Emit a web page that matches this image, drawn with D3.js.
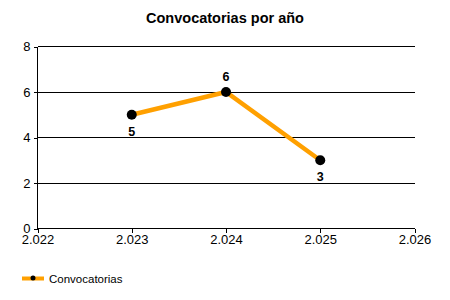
<!DOCTYPE html>
<html><head><meta charset="utf-8">
<script src="https://cdn.jsdelivr.net/npm/d3@7"></script>
<style>body{margin:0;background:#fff}svg{display:block;font-family:"Liberation Sans",Arial,sans-serif}</style>
</head><body><svg id="c" width="450" height="300"></svg>
<script>
const years = [2023, 2024, 2025];
const values = [5, 6, 3];
const labelPos = ["below", "above", "below"];
const xTicks = [2022, 2023, 2024, 2025, 2026];
const yTicks = [0, 2, 4, 6, 8];
const title = "Convocatorias por año";
const seriesName = "Convocatorias";

const svg = d3.select("#c");
const x = d3.scaleLinear().domain([2022, 2026]).range([37.5, 414.5]);
const y = d3.scaleLinear().domain([0, 8]).range([228.5, 46.5]);
const fmt = v => (v/1000).toFixed(3);

svg.append("text").attr("x", 225).attr("y", 23).attr("text-anchor", "middle")
  .attr("font-size", 14.5).attr("font-weight", "bold").text(title);

// grid
svg.append("g").selectAll("line").data(yTicks.filter(d => d > 0)).join("line")
  .attr("x1", 37.5).attr("x2", 414.5).attr("y1", d => y(d)).attr("y2", d => y(d))
  .attr("stroke", "#000").attr("stroke-width", 1).attr("shape-rendering", "crispEdges");

// y axis
const ya = svg.append("g").attr("transform", "translate(37.5,0)")
  .call(d3.axisLeft(y).tickValues(yTicks).tickSize(4).tickPadding(3).tickFormat(d3.format("d")));
ya.select(".domain").attr("d", `M0,${y(8)}V${y(0)}`).attr("shape-rendering", "crispEdges");
ya.selectAll("line").attr("shape-rendering", "crispEdges");
ya.selectAll("text").attr("font-size", 13).attr("font-family", "Liberation Sans, Arial").attr("fill", "#000");

// x axis
const xa = svg.append("g").attr("transform", `translate(0,${y(0)})`)
  .call(d3.axisBottom(x).tickValues(xTicks).tickSize(4).tickPadding(2).tickFormat(fmt));
xa.select(".domain").attr("d", `M${x(2022)},0H${x(2026)}`).attr("shape-rendering", "crispEdges");
xa.selectAll("line").attr("shape-rendering", "crispEdges");
xa.selectAll("text").attr("font-size", 13).attr("font-family", "Liberation Sans, Arial").attr("fill", "#000");

const data = years.map((d, i) => ({x: d, y: values[i], p: labelPos[i]}));
svg.append("path").datum(data)
  .attr("d", d3.line().x(d => x(d.x)).y(d => y(d.y)))
  .attr("fill", "none").attr("stroke", "#FFA000").attr("stroke-width", 4.5);
svg.append("g").selectAll("circle").data(data).join("circle")
  .attr("cx", d => x(d.x)).attr("cy", d => y(d.y)).attr("r", 5).attr("fill", "#000");
svg.append("g").selectAll("text").data(data).join("text")
  .attr("x", d => x(d.x)).attr("y", d => d.p === "above" ? y(d.y) - 11 : y(d.y) + 21)
  .attr("text-anchor", "middle").attr("font-size", 12.5).attr("font-weight", "bold").text(d => d.y);

// legend
const lg = svg.append("g");
lg.append("line").attr("x1", 22).attr("x2", 44).attr("y1", 278.5).attr("y2", 278.5)
  .attr("stroke", "#FFA000").attr("stroke-width", 4);
lg.append("circle").attr("cx", 33).attr("cy", 278).attr("r", 2.5).attr("fill", "#000");
lg.append("text").attr("x", 49).attr("y", 282.5).attr("font-size", 11.5).text(seriesName);
</script></body></html>
